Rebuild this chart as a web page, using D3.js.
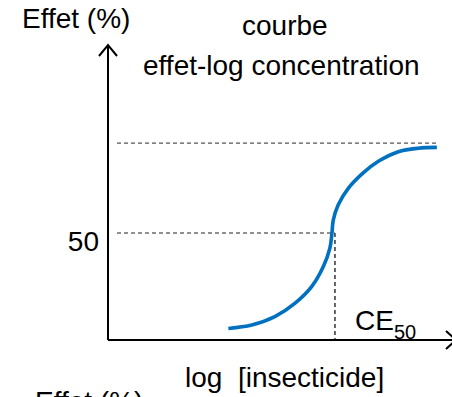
<!DOCTYPE html>
<html>
<head>
<meta charset="utf-8">
<script src="https://cdn.jsdelivr.net/npm/d3@7"></script>
<style>
  html, body { margin: 0; padding: 0; background: #fff; overflow: hidden; }
  svg { display: block; font-family: "Liberation Sans", Arial, sans-serif; }
  text { white-space: pre; }
</style>
</head>
<body>
<svg id="chart" width="452" height="397"></svg>
<script>
// Concentration-effect curve (log scale on x)
const logConc = [3.50, 4.18, 4.85, 5.44, 5.92, 6.26, 6.45, 6.51, 6.55, 6.69, 6.99, 7.41, 7.86, 8.44, 9.02, 9.56];
const effect  = [5.4,  7.0,  10.9, 17.2, 24.9, 34.3, 42.9, 50.0, 56.1, 63.1, 71.0, 78.0, 83.5, 88.0, 89.6, 90.0];
const ce50 = 6.51;
const e50 = 50;
const emax = 92;
const yTicks = [50];

const titleLines = ["courbe", "effet-log concentration"];
const yLabel = "Effet (%)";
const xLabel = "log  [insecticide]";

const svg = d3.select("#chart");

const x = d3.scaleLinear().domain([0, 10]).range([108, 452]);
const y = d3.scaleLinear().domain([0, 50]).range([340, 233]);

const fs = 28;

// Y tick label (only 50)
const yAxis = d3.axisLeft(y).tickValues(yTicks).tickSize(0).tickPadding(9);
const gy = svg.append("g").attr("transform", `translate(${x(0)},0)`).call(yAxis);
gy.select(".domain").remove();
gy.selectAll("text")
  .attr("font-family", "Liberation Sans, Arial, sans-serif")
  .attr("font-size", fs)
  .attr("fill", "#000")
  .attr("dy", "0.63em");

// Reference dashed lines
const dash = svg.append("g").attr("fill", "none");
dash.append("line")
  .attr("x1", x(0) + 9).attr("x2", x(9.6))
  .attr("y1", y(emax)).attr("y2", y(emax))
  .attr("stroke", "#555").attr("stroke-width", 1.4).attr("stroke-dasharray", "4,3");
dash.append("line")
  .attr("x1", x(0) + 9).attr("x2", x(ce50) + 3)
  .attr("y1", y(e50)).attr("y2", y(e50))
  .attr("stroke", "#222").attr("stroke-width", 1.2).attr("stroke-dasharray", "4,3");
dash.append("line")
  .attr("x1", x(ce50) + 3).attr("x2", x(ce50) + 3)
  .attr("y1", y(e50)).attr("y2", y(0))
  .attr("stroke", "#555").attr("stroke-width", 1.8).attr("stroke-dasharray", "4,3");

// Axes with open arrowheads
const axes = svg.append("g").attr("stroke", "#000").attr("stroke-width", 2).attr("fill", "none");
axes.append("path").attr("d", `M${x(0)},${y(0)}V46`);
axes.append("path").attr("d", `M${x(0) - 9},56L${x(0)},45L${x(0) + 9},56`);
axes.append("path").attr("d", `M${x(0)},${y(0)}H456`);
axes.append("path").attr("d", `M446,${y(0) - 9}L456,${y(0)}L446,${y(0) + 9}`);

// Curve
const pts = logConc.map((v, i) => [v, effect[i]]);
const line = d3.line()
  .x(d => x(d[0]))
  .y(d => y(d[1]))
  .curve(d3.curveCatmullRom.alpha(0.5));
svg.append("path")
  .datum(pts)
  .attr("d", line)
  .attr("fill", "none")
  .attr("stroke", "#0070C0")
  .attr("stroke-width", 3.6)
  .attr("stroke-linecap", "butt");

// Text
const txt = svg.append("g").attr("font-size", fs).attr("fill", "#000");
txt.append("text").attr("x", 22).attr("y", 28).text(yLabel);
txt.append("text").attr("x", 242).attr("y", 35).text(titleLines[0]);
txt.append("text").attr("x", 143).attr("y", 75).text(titleLines[1]);
txt.append("text").attr("x", 185).attr("y", 387).attr("xml:space", "preserve").text(xLabel);
txt.append("text").attr("x", 35).attr("y", 411).text(yLabel);

const ce = txt.append("text").attr("x", 355).attr("y", 330);
ce.append("tspan").text("CE");
ce.append("tspan").attr("font-size", 20).attr("dy", 9).text("50");
</script>
</body>
</html>
